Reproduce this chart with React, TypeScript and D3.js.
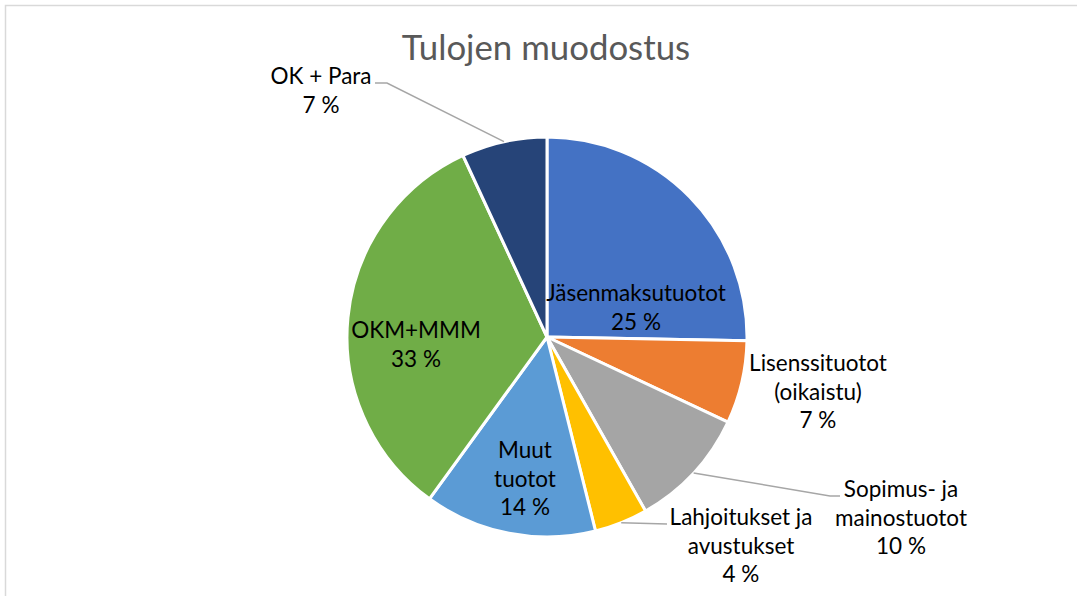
import React from "react";
import * as d3 from "d3";

// ---- data ----
const categories = [
  "Jäsenmaksutuotot",
  "Lisenssituotot (oikaistu)",
  "Sopimus- ja mainostuotot",
  "Lahjoitukset ja avustukset",
  "Muut tuotot",
  "OKM+MMM",
  "OK + Para",
];
const values = [25.3, 6.7, 9.8, 4.3, 13.9, 33.1, 6.9];
const labelLines = [
  ["Jäsenmaksutuotot"],
  ["Lisenssituotot", "(oikaistu)"],
  ["Sopimus- ja", "mainostuotot"],
  ["Lahjoitukset ja", "avustukset"],
  ["Muut", "tuotot"],
  ["OKM+MMM"],
  ["OK + Para"],
];
const colors = ["#4472C4", "#ED7D31", "#A5A5A5", "#FFC000", "#5B9BD5", "#70AD47", "#264478"];
const title = "Tulojen muodostus";

// ---- layout (relative to pie centre) ----
const W = 1077;
const H = 596;
const CX = 547;
const CY = 337;
const R = 200;
const labelPos: [number, number][] = [
  [89, -36],
  [271, 34],
  [354, 160],
  [194, 188],
  [-22, 121],
  [-131, 1],
  [-226, -253],
];
// leader polyline points after the arc point (null = no leader)
const leaders: ([number, number][] | null)[] = [
  null,
  null,
  [[283, 159], [293, 159]],
  [[120, 187]],
  null,
  null,
  [[-160, -254], [-172, -254]],
];

export default function App() {
  const pie = d3.pie<number>().sort(null).value((d) => d);
  const arcs = pie(values);
  const arcGen = d3.arc<d3.PieArcDatum<number>>().innerRadius(0).outerRadius(R);
  const total = d3.sum(values);
  const lineH = 28.7;
  const font = "Lato, 'Open Sans', sans-serif";

  return (
    <svg
      width={W}
      height={H}
      style={{ position: "absolute", left: 0, top: 0, background: "#fff" }}
    >
      <rect x={5.5} y={5.5} width={W + 20} height={H + 20} fill="#fff" stroke="#d9d9d9" strokeWidth={1.5} />
      <text
        x={546}
        y={60}
        textAnchor="middle"
        fontFamily={font}
        fontSize={34.8}
        fill="#595959"
      >
        {title}
      </text>
      <g transform={`translate(${CX},${CY})`}>
        {arcs.map((a, i) => (
          <path key={categories[i]} d={arcGen(a) || ""} fill={colors[i]} stroke="#fff" strokeWidth={3} strokeLinejoin="round" />
        ))}
        {arcs.map((a, i) => {
          const pts = leaders[i];
          if (!pts) return null;
          const mid = (a.startAngle + a.endAngle) / 2;
          const start: [number, number] = [Math.sin(mid) * R, -Math.cos(mid) * R];
          const line = d3.line()([start, ...pts]);
          return <path key={"l" + i} d={line || ""} fill="none" stroke="#a6a6a6" strokeWidth={1.5} />;
        })}
        {arcs.map((a, i) => {
          const [lx, ly] = labelPos[i];
          const pct = Math.round((values[i] / total) * 100) + " %";
          const lines = [...labelLines[i], pct];
          return (
            <text key={"t" + i} textAnchor="middle" fontFamily={font} fontSize={22.5} fill="#000">
              {lines.map((t, j) => (
                <tspan key={j} x={lx} y={ly + j * lineH}>
                  {t}
                </tspan>
              ))}
            </text>
          );
        })}
      </g>
    </svg>
  );
}
